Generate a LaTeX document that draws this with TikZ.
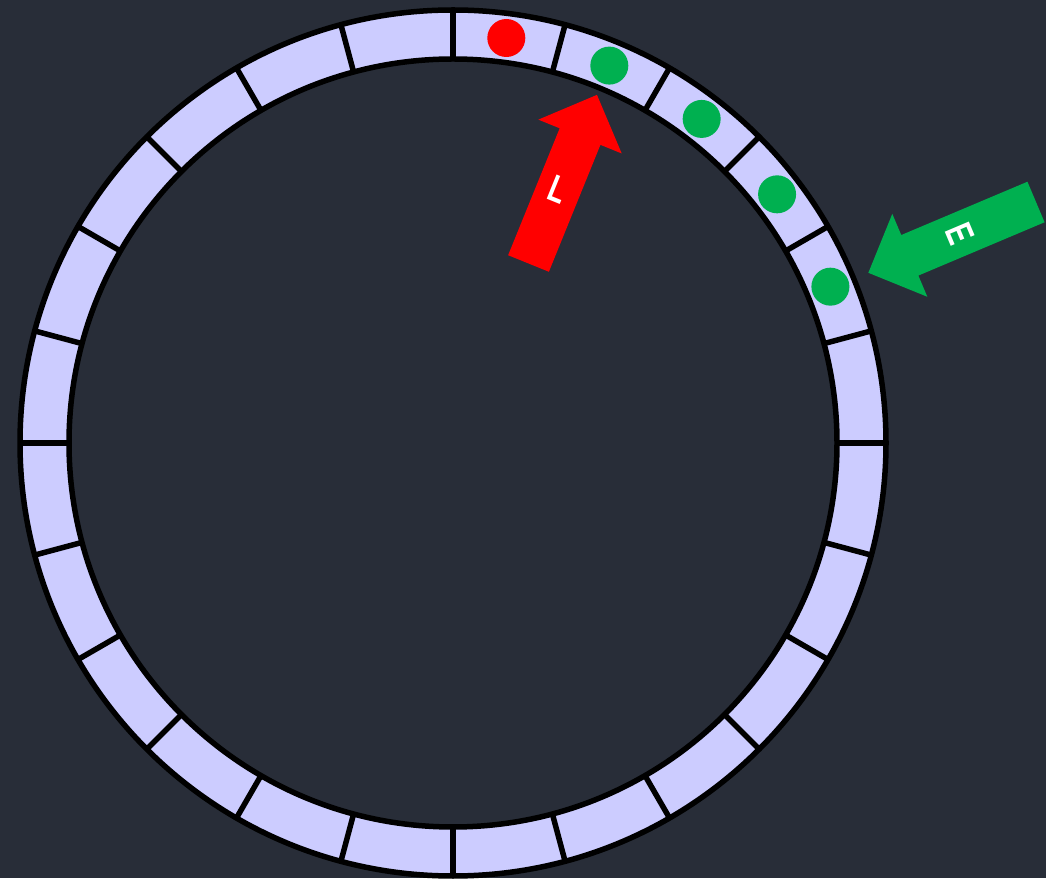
\documentclass[tikz,border=0pt]{standalone}
\usepackage{fontspec}
\setmainfont{Liberation Sans}
\definecolor{bgc}{HTML}{282D38}
\definecolor{ringc}{HTML}{CCCCFF}
\definecolor{grn}{HTML}{00B050}
\definecolor{rd}{HTML}{FF0000}
\tikzset{
  ringline/.style={line width=5.5pt, draw=black},
  dot/.style={circle, minimum size=38pt, inner sep=0pt, draw=none},
  arrlabel/.style={text=white, inner sep=0pt, font=\fontsize{38}{38}\selectfont\bfseries},
}
\begin{document}
\begin{tikzpicture}[x=1pt,y=1pt]
\fill[bgc] (0,0) rectangle (1046,878);
\useasboundingbox (0,0) rectangle (1046,878);
\coordinate (c) at (453,435);
% ring
\path[ringline, fill=ringc, even odd rule] (c) circle (433) (c) circle (384);
\foreach \a in {0,15,...,345}
  \draw[ringline] ([shift={(\a:384)}]c) -- ([shift={(\a:433)}]c);
% dots
\node[dot, fill=rd] (d0) at ([shift={(82.5:408.5)}]c) {};
\node[dot, fill=grn] (d1) at ([shift={(67.5:408.5)}]c) {};
\node[dot, fill=grn] (d2) at ([shift={(52.5:408.5)}]c) {};
\node[dot, fill=grn] (d3) at ([shift={(37.5:408.5)}]c) {};
\node[dot, fill=grn] (d4) at ([shift={(22.5:408.5)}]c) {};
% red arrow L
\begin{scope}[shift={(528.5,614.5)}, rotate=67.9]
  \fill[rd] (0,-22) -- (137,-22) -- (137,-45) -- (182,0) -- (137,45) -- (137,22) -- (0,22) -- cycle;
  \coordinate (lpos) at (80,0);
\end{scope}
\node[arrlabel, rotate=-22.1, xscale=0.72] (lbl) at (lpos) {L};
% green arrow E
\begin{scope}[shift={(1036,676)}, rotate=202.9]
  \fill[grn] (0,-22) -- (137,-22) -- (137,-45) -- (182,0) -- (137,45) -- (137,22) -- (0,22) -- cycle;
  \coordinate (epos) at (82,0);
\end{scope}
\node[arrlabel, rotate=-67.1, xscale=0.72] (elbl) at (epos) {E};
\end{tikzpicture}
\end{document}
